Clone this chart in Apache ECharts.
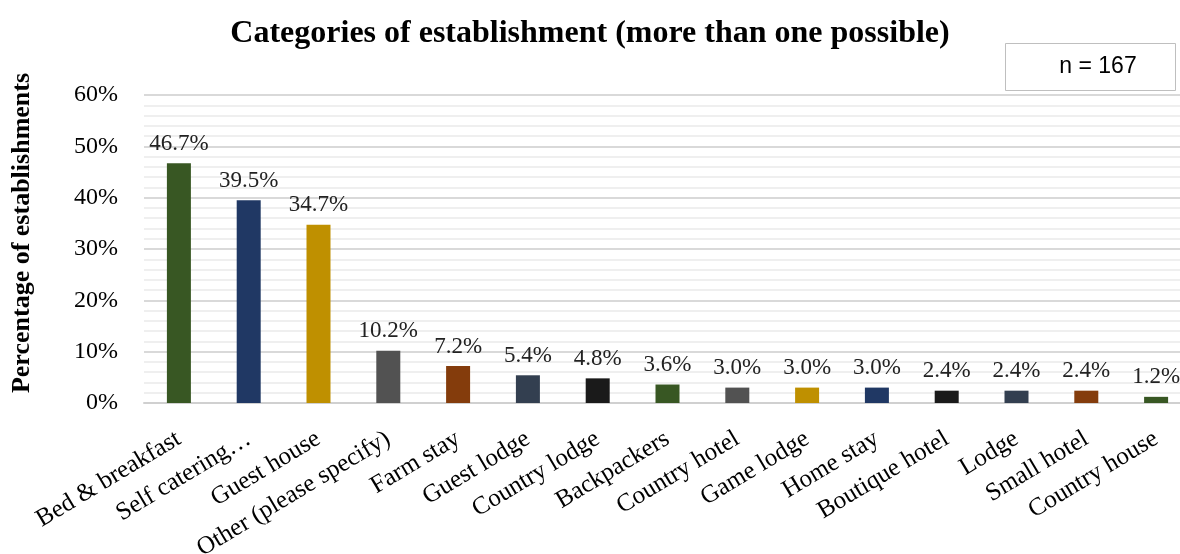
<!DOCTYPE html>
<html>
<head>
<meta charset="utf-8">
<script src="https://cdn.jsdelivr.net/npm/echarts@6/dist/echarts.min.js"></script>
<style>
  html, body { margin: 0; padding: 0; background: #fff; }
  #chart { width: 1180px; height: 554px; }
</style>
</head>
<body>
<div id="chart"></div>
<script>
// data
const categories = [
  'Bed & breakfast', 'Self catering…', 'Guest house', 'Other (please specify)',
  'Farm stay', 'Guest lodge', 'Country lodge', 'Backpackers', 'Country hotel',
  'Game lodge', 'Home stay', 'Boutique hotel', 'Lodge', 'Small hotel', 'Country house'
]
const percentValues = [46.7, 39.5, 34.7, 10.2, 7.2, 5.4, 4.8, 3.6, 3.0, 3.0, 3.0, 2.4, 2.4, 2.4, 1.2]
const yTicks = [0, 10, 20, 30, 40, 50, 60]
const sampleNote = 'n = 167'

// palette, one per bar
const barColors = [
  '#385723', '#203864', '#bf9000', '#525252', '#843c0c', '#333f50', '#1a1a1a',
  '#385723', '#525252', '#bf9000', '#203864', '#1a1a1a', '#333f50', '#843c0c', '#385723'
]

const serif = '"Liberation Serif", "Times New Roman", serif'
const myChart = echarts.init(document.getElementById('chart'))
myChart.setOption({
  animation: false,
  title: {
    text: 'Categories of establishment (more than one possible)',
    left: 'center',
    top: 13,
    textStyle: { fontFamily: serif, fontSize: 32, fontWeight: 'bold', color: '#000' }
  },
  graphic: [
    {
      type: 'rect',
      left: 1005, top: 43,
      shape: { width: 170, height: 47 },
      style: { fill: '#fff', stroke: '#bfbfbf', lineWidth: 1 },
      z: 10
    },
    {
      type: 'text',
      x: 1098, y: 67,
      style: {
        text: sampleNote,
        font: '23px "Liberation Sans", Arial, sans-serif',
        fill: '#000',
        align: 'center',
        verticalAlign: 'middle'
      },
      z: 11
    }
  ],
  grid: {
    left: 144,
    top: 95,
    width: 1047,
    height: 308,
    outerBoundsMode: 'none'
  },
  xAxis: {
    type: 'category',
    data: categories,
    axisTick: { show: false },
    axisLine: { lineStyle: { color: '#d0d0d0', width: 2 } },
    axisLabel: {
      interval: 0,
      rotate: 31,
      margin: 34,
      fontFamily: serif,
      fontSize: 25,
      color: '#000'
    }
  },
  yAxis: {
    type: 'value',
    min: 0,
    max: 60,
    interval: 10,
    name: 'Percentage of establishments',
    nameLocation: 'middle',
    nameGap: 109,
    nameTextStyle: {
      fontFamily: serif, fontSize: 26, fontWeight: 'bold', color: '#000',
      padding: [0, 0, 0, 32]
    },
    axisLabel: {
      formatter: v => yTicks.includes(v) ? v + '%' : '',
      fontFamily: serif,
      fontSize: 24,
      color: '#000',
      margin: 26
    },
    splitLine: { lineStyle: { color: '#d9d9d9', width: 2 } },
    minorTick: { show: false, splitNumber: 5 },
    minorSplitLine: { show: true, lineStyle: { color: '#efefef', width: 2 } }
  },
  series: [
    {
      type: 'bar',
      data: percentValues.map((v, i) => ({ value: v, itemStyle: { color: barColors[i] } })),
      barWidth: 24,
      label: {
        show: true,
        position: 'top',
        distance: 8,
        formatter: p => p.value.toFixed(1) + '%',
        fontFamily: serif,
        fontSize: 23,
        color: '#222'
      }
    }
  ]
})
window.addEventListener('resize', () => {
  myChart.resize()
})
</script>
</body>
</html>
